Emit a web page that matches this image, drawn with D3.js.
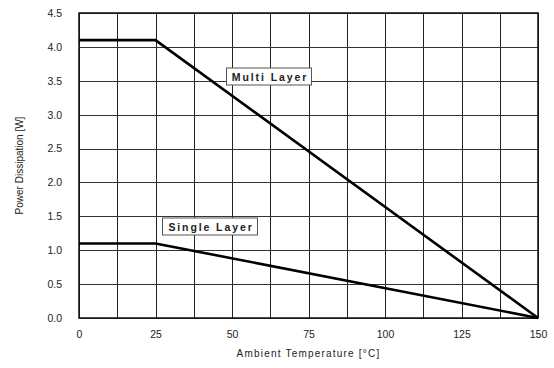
<!DOCTYPE html>
<html>
<head>
<meta charset="utf-8">
<script src="https://cdn.jsdelivr.net/npm/d3@7"></script>
<style>
  body { margin: 0; background: #fff; }
  text { font-family: Arial, "Liberation Sans", sans-serif; fill: #222; }
</style>
</head>
<body>
<div id="chart"></div>
<script>
// derating curves
var temps = [0, 25, 150];
var multiLayer = [4.1, 4.1, 0];
var singleLayer = [1.1, 1.1, 0];
var xTicks = [0, 25, 50, 75, 100, 125, 150];
var yTicks = [0, 0.5, 1, 1.5, 2, 2.5, 3, 3.5, 4, 4.5];
var xGrid = d3.range(0, 150.1, 12.5);

var width = 554, height = 368;
var margin = {top: 13, left: 79, right: 16, bottom: 50};

var svg = d3.select("#chart").append("svg")
    .attr("width", width)
    .attr("height", height);

var x = d3.scaleLinear().domain([0, 150]).range([margin.left, width - margin.right]);
var y = d3.scaleLinear().domain([0, 4.5]).range([height - margin.bottom, margin.top]);

// grid
svg.append("g").selectAll("line.v")
    .data(xGrid)
    .enter().append("line")
    .attr("x1", function (d) { return Math.round(x(d)) + 0.5; })
    .attr("x2", function (d) { return Math.round(x(d)) + 0.5; })
    .attr("y1", y(4.5))
    .attr("y2", y(0))
    .attr("stroke", "#222")
    .attr("stroke-width", 1);

svg.append("g").selectAll("line.h")
    .data(yTicks)
    .enter().append("line")
    .attr("x1", x(0))
    .attr("x2", x(150))
    .attr("y1", function (d) { return Math.round(y(d)) + 0.5; })
    .attr("y2", function (d) { return Math.round(y(d)) + 0.5; })
    .attr("stroke", "#333")
    .attr("stroke-width", 1);

// frame
svg.append("rect")
    .attr("x", x(0))
    .attr("y", y(4.5))
    .attr("width", x(150) - x(0))
    .attr("height", y(0) - y(4.5))
    .attr("fill", "none")
    .attr("stroke", "#111")
    .attr("stroke-width", 1.5);

// axes, tick labels only
var xAxis = svg.append("g")
    .attr("transform", "translate(0," + y(0) + ")")
    .call(d3.axisBottom(x).tickValues(xTicks).tickSize(0).tickPadding(13).tickFormat(d3.format("d")));
var yAxis = svg.append("g")
    .attr("transform", "translate(" + x(0) + ",0)")
    .call(d3.axisLeft(y).tickValues(yTicks).tickSize(0).tickPadding(17).tickFormat(d3.format(".1f")));
[xAxis, yAxis].forEach(function (a) {
    a.select(".domain").remove();
    a.selectAll("text").style("font-size", "10.5px").style("font-family", "Arial, 'Liberation Sans', sans-serif").attr("fill", "#222");
});

// curves
var line = d3.line()
    .x(function (d) { return x(d[0]); })
    .y(function (d) { return y(d[1]); });

[multiLayer, singleLayer].forEach(function (s) {
    svg.append("path")
        .datum(temps.map(function (t, i) { return [t, s[i]]; }))
        .attr("d", line)
        .attr("fill", "none")
        .attr("stroke", "#000")
        .attr("stroke-width", 2.6)
        .attr("stroke-linejoin", "round");
});

// series labels in boxes
function boxLabel(txt, x0, x1, cy) {
    var g = svg.append("g");
    g.append("rect")
        .attr("x", x0)
        .attr("y", cy - 8.5)
        .attr("width", x1 - x0)
        .attr("height", 17)
        .attr("fill", "#fff")
        .attr("stroke", "#555")
        .attr("stroke-width", 1);
    g.append("text")
        .attr("x", (x0 + x1) / 2 + 1)
        .attr("y", cy + 4)
        .attr("text-anchor", "middle")
        .style("font-size", "10.5px")
        .style("font-weight", "bold")
        .style("letter-spacing", "1.9px")
        .attr("fill", "#111")
        .text(txt);
}
boxLabel("Multi Layer", 226.5, 311.5, 76.5);
boxLabel("Single Layer", 162.5, 257.5, 226.5);

// axis titles
svg.append("text")
    .attr("transform", "translate(23," + ((y(0) + y(4.5)) / 2) + ") rotate(-90)")
    .attr("text-anchor", "middle")
    .style("font-size", "10px")
    .text("Power Dissipation [W]");

svg.append("text")
    .attr("x", (x(0) + x(150)) / 2)
    .attr("y", 357)
    .attr("text-anchor", "middle")
    .style("font-size", "10px")
    .style("letter-spacing", "1.2px")
    .text("Ambient Temperature [°C]");
</script>
</body>
</html>
